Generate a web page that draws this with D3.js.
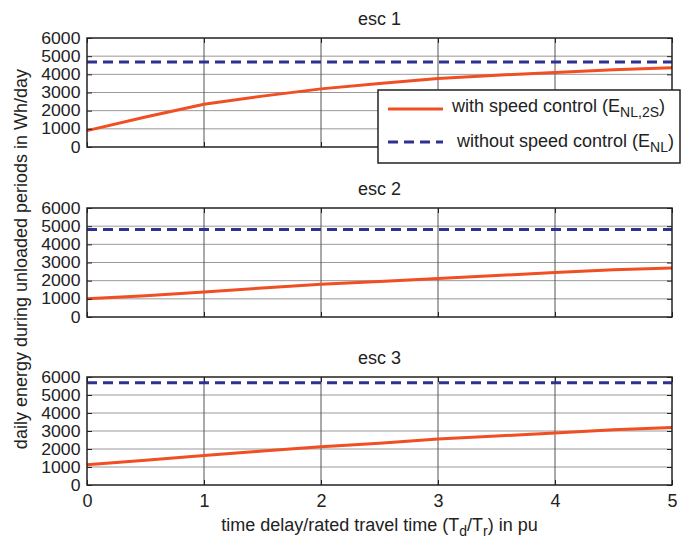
<!DOCTYPE html>
<html><head><meta charset="utf-8">
<script src="https://cdn.jsdelivr.net/npm/d3@7"></script>
<style>body{margin:0;background:#fff}svg{display:block;font-family:"Liberation Sans",Arial,sans-serif}</style>
</head><body><svg id="c" width="683" height="539"></svg>
<script>
const xVals = [0,0.5,1,1.5,2,2.5,3,3.5,4,4.5,5];
const titles = ["esc 1","esc 2","esc 3"];
const withSpeed1 = [900,1650,2350,2800,3200,3500,3770,3950,4100,4250,4360];
const withSpeed2 = [1000,1170,1370,1600,1800,1950,2120,2280,2450,2600,2700];
const withSpeed3 = [1130,1380,1640,1890,2120,2320,2550,2720,2890,3070,3190];
const withoutSpeed = [4680,4820,5680];
const xTicks = [0,1,2,3,4,5];
const yTicks = [0,1000,2000,3000,4000,5000,6000];
const legendLabels = ["with speed control (E","without speed control (E"];

const svg = d3.select("#c");
const L=87,R=672;
const panels=[{top:38,bot:147},{top:208,bot:317},{top:377,bot:485}];
const series=[withSpeed1,withSpeed2,withSpeed3];
const x=d3.scaleLinear().domain([0,5]).range([L,R]);
const orange="#f04e23", blue="#2e3192", ink="#222";
const fmt=d3.format("d");

panels.forEach((p,i)=>{
  const y=d3.scaleLinear().domain([0,6000]).range([p.bot,p.top]);
  const g=svg.append("g");
  g.selectAll(".hg").data(yTicks.slice(1,-1)).join("line")
    .attr("x1",L).attr("x2",R).attr("y1",d=>y(d)).attr("y2",d=>y(d))
    .attr("stroke","#999").attr("stroke-width",1);
  g.selectAll(".vg").data(xTicks.slice(1,-1)).join("line")
    .attr("y1",p.top).attr("y2",p.bot).attr("x1",d=>x(d)).attr("x2",d=>x(d))
    .attr("stroke","#555").attr("stroke-width",1);
  g.append("line").attr("x1",x(0)).attr("x2",x(5)).attr("y1",y(withoutSpeed[i])).attr("y2",y(withoutSpeed[i]))
    .attr("stroke",blue).attr("stroke-width",3).attr("stroke-dasharray","10,6");
  g.append("path").datum(series[i]).attr("fill","none").attr("stroke",orange).attr("stroke-width",3)
    .attr("d",d3.line().x((d,j)=>x(xVals[j])).y(d=>y(d)));
  const ya=d3.axisLeft(y).tickValues(yTicks).tickSize(-5).tickPadding(6).tickFormat(fmt);
  const yg=g.append("g").attr("transform",`translate(${L},0)`).call(ya);
  yg.selectAll("text").attr("font-size",16).attr("fill",ink)
    .attr("transform","scale(1.1,1)");
  g.append("g").attr("transform",`translate(${R},0)`).call(d3.axisRight(y).tickValues(yTicks).tickSize(-5).tickFormat(""));
  const xa=d3.axisBottom(x).tickValues(xTicks).tickSize(-5).tickPadding(9).tickFormat(i<2?"":fmt);
  const xg=g.append("g").attr("transform",`translate(0,${p.bot})`).call(xa);
  xg.selectAll("text").attr("font-size",18).attr("fill",ink);
  g.append("g").attr("transform",`translate(0,${p.top})`).call(d3.axisTop(x).tickValues(xTicks).tickSize(-5).tickFormat(""));
  g.selectAll(".domain").remove();
  g.selectAll(".tick line").attr("stroke",ink);
  g.append("rect").attr("x",L).attr("y",p.top).attr("width",R-L).attr("height",p.bot-p.top)
    .attr("fill","none").attr("stroke",ink).attr("stroke-width",1.5);
  g.append("text").attr("x",(L+R)/2).attr("y",p.top-13).attr("text-anchor","middle")
    .attr("font-size",18).attr("fill",ink).text(titles[i]);
});

// legend
const lg=svg.append("g");
lg.append("rect").attr("x",378).attr("y",90).attr("width",302).attr("height",73)
  .attr("fill","#fff").attr("stroke",ink).attr("stroke-width",1.5);
lg.append("line").attr("x1",388).attr("x2",443).attr("y1",109).attr("y2",109).attr("stroke",orange).attr("stroke-width",3);
lg.append("line").attr("x1",388).attr("x2",443).attr("y1",142).attr("y2",142).attr("stroke",blue).attr("stroke-width",3).attr("stroke-dasharray","10,6");
const t1=lg.append("text").attr("x",452).attr("y",112).attr("font-size",18).attr("fill",ink);
t1.append("tspan").text(legendLabels[0]);
t1.append("tspan").attr("font-size",14).attr("dy",5).text("NL,2S");
t1.append("tspan").attr("dy",-5).text(")");
const t2=lg.append("text").attr("x",457).attr("y",147).attr("font-size",18).attr("fill",ink);
t2.append("tspan").text(legendLabels[1]);
t2.append("tspan").attr("font-size",14).attr("dy",5).text("NL");
t2.append("tspan").attr("dy",-5).text(")");

// axis labels
const xl=svg.append("text").attr("x",(L+R)/2).attr("y",531).attr("text-anchor","middle").attr("font-size",18).attr("fill",ink);
xl.append("tspan").text("time delay/rated travel time (T");
xl.append("tspan").attr("font-size",14).attr("dy",5).text("d");
xl.append("tspan").attr("dy",-5).text("/T");
xl.append("tspan").attr("font-size",14).attr("dy",5).text("r");
xl.append("tspan").attr("dy",-5).text(") in pu");
svg.append("text").attr("transform","translate(27,259) rotate(-90)").attr("text-anchor","middle")
  .attr("font-size",18).attr("fill",ink).text("daily energy during unloaded periods in Wh/day");
</script></body></html>
